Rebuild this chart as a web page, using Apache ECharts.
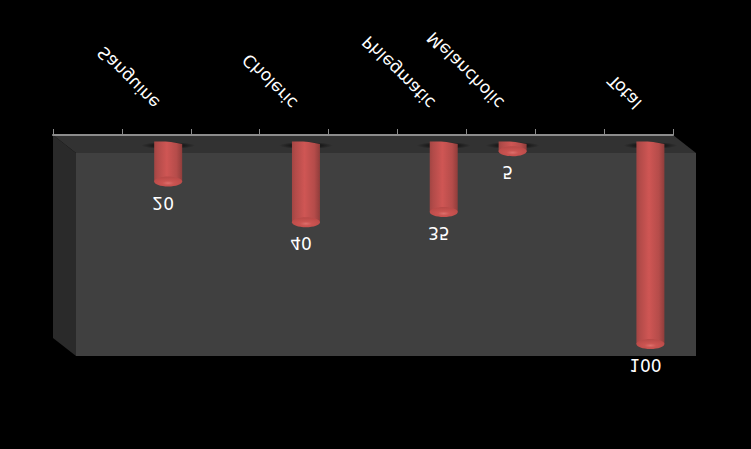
<!DOCTYPE html>
<html>
<head>
<meta charset="utf-8">
<style>
html,body{margin:0;padding:0;background:#000;overflow:hidden}
#c{width:751px;height:449px;transform:scaleY(-1)}
</style>
<script src="https://cdn.jsdelivr.net/npm/echarts@6/dist/echarts.min.js"></script>
</head>
<body>
<div id="c"></div>
<script>
const categories = ['', 'Sanguine', '', 'Choleric', '', 'Phlegmatic', 'Melancholic', '', 'Total'];
const values = [null, 20, null, 40, null, 35, 5, null, 100];

// The reference is vertically mirrored: the chart is drawn upright and the container is flipped.
const chart = echarts.init(document.getElementById('c'), null, {renderer: 'svg'});
const G = {left: 53, top: 111, width: 620, height: 203};
const dx = 23, dy = 18;
const L = G.left, R = G.left + G.width, B = G.top + G.height, T = G.top;
const FONT = '"DejaVu Sans", sans-serif';

const bodyFill = new echarts.graphic.LinearGradient(0, 0, 1, 0, [
  {offset: 0, color: '#a24543'},
  {offset: 0.12, color: '#b24b49'},
  {offset: 0.45, color: '#cf5654'},
  {offset: 0.8, color: '#b54c4a'},
  {offset: 1, color: '#8f3d3b'}
]);
const capFill = new echarts.graphic.RadialGradient(0.5, 0.35, 0.6, [
  {offset: 0, color: '#dd6f6b'},
  {offset: 0.35, color: '#cb5451'},
  {offset: 1, color: '#b94a48'}
]);
const shadowFill = new echarts.graphic.RadialGradient(0.5, 0.5, 0.5, [
  {offset: 0, color: 'rgba(0,0,0,0.6)'},
  {offset: 0.6, color: 'rgba(0,0,0,0.45)'},
  {offset: 1, color: 'rgba(0,0,0,0)'}
]);

function renderCylinder(params, api) {
  const v = api.value(1);
  if (v == null || isNaN(v)) return;
  const p = api.coord([api.value(0), v]);
  const base = api.coord([api.value(0), 0]);
  const band = api.size([1, 0])[0];
  const cx = p[0] + band * 0.172, rx = 14, ry = 5;
  const baseY = base[1] - 6.5, endY = p[1] - 6;
  // cylinder body; its foot on the floor is a slightly tilted arc
  const pts = [[cx - rx, endY], [cx + rx, endY]];
  for (let i = 0; i <= 10; i++) {
    const t = i / 10;
    pts.push([cx + rx - 2 * rx * t, baseY - 2.5 + 2.5 * t + 1 * Math.sin(Math.PI * t)]);
  }
  return {
    type: 'group',
    children: [
      {type: 'ellipse', shape: {cx: cx, cy: baseY - 4, rx: 27, ry: 3.5}, style: {fill: shadowFill}},
      {type: 'polygon', shape: {points: pts}, style: {fill: bodyFill}},
      {type: 'ellipse', shape: {cx: cx, cy: endY, rx: rx, ry: ry}, style: {fill: capFill}},
      {type: 'text', x: cx - 5, y: endY - 21, style: {
        text: String(v), fill: '#fff', font: '17px ' + FONT,
        align: 'center', verticalAlign: 'middle'
      }}
    ]
  };
}

chart.setOption({
  backgroundColor: '#000',
  animation: false,
  graphic: [
    {type: 'polygon', z: -1, shape: {points: [[L, B], [L + dx, B - dy], [L + dx, T - dy], [L, T]]}, style: {fill: '#2a2a2a'}},
    {type: 'polygon', z: -1, shape: {points: [[L, B], [R, B], [R + dx, B - dy], [L + dx, B - dy]]}, style: {fill: '#323232'}},
    {type: 'rect', z: -1, shape: {x: L + dx, y: T - dy, width: G.width, height: G.height}, style: {fill: '#404040'}}
  ],
  grid: G,
  xAxis: {
    type: 'category',
    data: categories,
    boundaryGap: true,
    axisLine: {show: true, lineStyle: {color: '#8c8c8c', width: 2}},
    axisTick: {show: true, length: 6, lineStyle: {color: '#8c8c8c', width: 1}},
    axisLabel: {
      interval: 0, rotate: 45, color: '#fff', margin: 29,
      fontSize: 17, fontFamily: FONT
    }
  },
  yAxis: {type: 'value', min: 0, max: 100, show: false},
  series: [{
    type: 'custom',
    z: 5,
    clip: false,
    renderItem: renderCylinder,
    encode: {x: 0, y: 1},
    data: values.map((v, i) => [i, v])
  }]
});
</script>
</body>
</html>
